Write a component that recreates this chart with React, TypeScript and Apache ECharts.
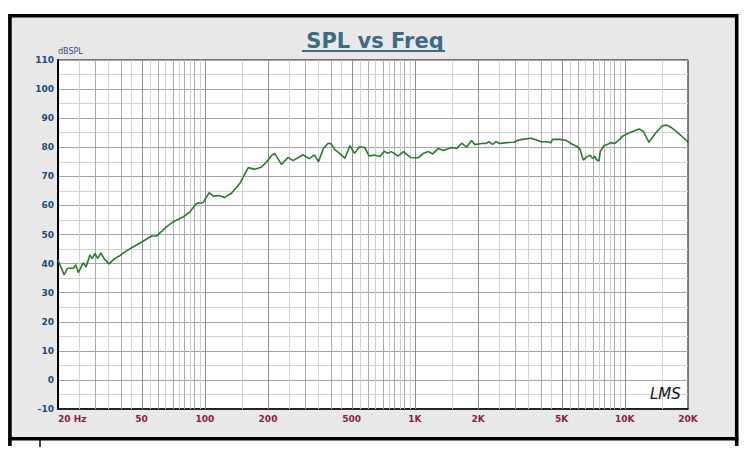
import React, { useEffect, useRef } from "react";
import * as echarts from "echarts";

// Measured response (frequency in Hz, level in dB SPL)
const FREQ_HZ = [
  20, 21.4, 22.2, 23.7, 24.3, 25, 26.4, 27.2, 28.4, 29.1, 30, 30.9, 32, 33.2, 35,
  37.3, 39.2, 41.8, 45.7, 50.3, 55.9, 59, 65.9, 70.9, 79.2, 85, 91.4, 98, 105,
  110, 117, 124, 134, 147, 161, 173, 186, 200, 207, 215, 232, 249, 263, 294, 314,
  333, 348, 367, 387, 399, 417, 439, 465, 491, 506, 517, 545, 578, 605, 643, 682,
  717, 743, 772, 835, 883, 953, 1041, 1100, 1162, 1217, 1295, 1368, 1499, 1585,
  1673, 1767, 1862, 1934, 2044, 2130, 2193, 2250, 2350, 2435, 2540, 2738, 2958,
  3080, 3242, 3589, 3807, 3991, 4247, 4449, 4526, 4902, 5289, 5498, 5958, 6119,
  6344, 6586, 6843, 7031, 7210, 7302, 7535, 7640, 7955, 8350, 8542, 8980, 9456,
  9801, 10390, 11130, 11680, 12250, 13040, 14000, 15090, 15830, 16620, 17880,
  19130, 20000,
];
const SPL_DB = [
  41.2, 36.1, 38.4, 38.4, 39.6, 36.9, 40.3, 38.8, 43, 41.7, 43.5, 41.8, 43.7, 41.6, 39.9,
  41.8, 42.6, 44.1, 45.8, 47.5, 49.5, 49.5, 52.7, 54.4, 56.1, 57.8, 60.7, 60.9, 64.4,
  63.2, 63.4, 62.7, 64.2, 67.6, 73, 72.4, 73.1, 75.5, 77, 77.9, 74.1, 76.5, 75.4, 77.4, 76.1,
  77.4, 75, 79.6, 81.4, 81.2, 79.1, 77.9, 76.2, 80.5, 79, 77.9, 80.2, 79.9, 77, 77.3, 76.8,
  78.7, 77.9, 78.5, 77, 78.5, 76.5, 76.4, 77.9, 78.5, 77.7, 79.6, 78.9, 79.9, 79.6,
  81.4, 80, 82.3, 80.9, 81.2, 81.4, 81.3, 81.9, 81, 81.9, 81.3, 81.6, 81.7,
  82.3, 82.7, 83.1, 82.5, 81.9, 81.9, 81.6, 82.7, 82.7, 82.3, 81.4, 80.2, 79.3,
  75.6, 76.7, 77.3, 76.1, 76.9, 75.8, 75.3, 78.5, 80.5, 81.1, 81.6, 81.3, 82.7,
  83.9, 84.8, 85.7, 86.3, 85.5, 81.7, 84.8, 87.4, 87.6, 86.8, 85,
  83.1, 81.7,
];

const X_MIN_HZ = 20;
const X_MAX_HZ = 20000;
const X_TICK_HZ = [20, 50, 100, 200, 500, 1000, 2000, 5000, 10000, 20000];
const X_TICK_LABELS = ["20 Hz", "50", "100", "200", "500", "1K", "2K", "5K", "10K", "20K"];
const Y_MIN = -10;
const Y_MAX = 110;
const Y_STEP = 10;

// Vertical grid: whole multiples (darker) and half multiples (lighter) of each decade
const DECADES = [10, 100, 1000, 10000];
const MAJOR_MULTS = [1, 3, 4, 6, 7, 8, 9];
const LABEL_MULTS = [2, 5, 10];
const MINOR_MULTS = [1.5, 2.5, 3.5, 4.5, 5.5, 6.5, 7.5, 8.5, 9.5];

function gridFreqs(mults: number[]): number[] {
  const out: number[] = [];
  DECADES.forEach((d) =>
    mults.forEach((m) => {
      const f = d * m;
      if (f > X_MIN_HZ && f < X_MAX_HZ && out.indexOf(f) < 0) out.push(f);
    })
  );
  return out;
}

export default function App() {
  const ref = useRef<HTMLDivElement>(null);

  useEffect(() => {
    document.body.style.margin = "0";
    if (!ref.current) return;
    const chart = echarts.init(ref.current, undefined, { renderer: "svg" });
    const lg = (f: number) => Math.log10(f);

    const titleColor = "#3d6a84";
    const gridSeries = (name: string, mults: number[], color: string) => ({
      name,
      type: "line",
      data: [],
      z: 1,
      silent: true,
      markLine: {
        silent: true,
        symbol: "none",
        label: { show: false },
        lineStyle: { color, width: 1, type: "solid" },
        data: gridFreqs(mults).map((f) => ({ xAxis: lg(f) })),
      },
    });

    const option: any = {
      animation: false,
      backgroundColor: "#ffffff",
      title: {
        text: "SPL vs Freq",
        left: "center",
        top: 25,
        textStyle: {
          fontFamily: "DejaVu Sans",
          fontWeight: "bold",
          fontSize: 21,
          color: titleColor,
        },
      },
      graphic: [
        {
          type: "rect",
          z: -5,
          shape: { x: 9.9, y: 15.7, width: 726.8, height: 423 },
          style: { fill: "#e8e8e8", stroke: "#000", lineWidth: 3.6 },
        },
        {
          type: "line",
          z: -4,
          shape: { x1: 9.9, y1: 438, x2: 9.9, y2: 446 },
          style: { stroke: "#000", lineWidth: 3.6 },
        },
        {
          type: "line",
          z: -4,
          shape: { x1: 736.7, y1: 438, x2: 736.7, y2: 446 },
          style: { stroke: "#000", lineWidth: 3.6 },
        },
        {
          type: "line",
          z: -4,
          shape: { x1: 40, y1: 440, x2: 40, y2: 447 },
          style: { stroke: "#000", lineWidth: 1.5 },
        },
        {
          type: "line",
          z: 100,
          shape: { x1: 302, y1: 51, x2: 445, y2: 51 },
          style: { stroke: titleColor, lineWidth: 2 },
        },
        {
          type: "text",
          z: 100,
          x: 650,
          y: 386,
          style: {
            text: "LMS",
            fontFamily: "DejaVu Sans",
            fontStyle: "italic",
            fontWeight: "normal",
            fontSize: 15,
            fill: "#111",
          },
        },
      ],
      grid: {
        left: 58,
        top: 60,
        right: 62,
        bottom: 66,
        show: true,
        backgroundColor: "#ffffff",
        borderColor: "#000",
        borderWidth: 1,
      },
      xAxis: {
        type: "value",
        min: lg(X_MIN_HZ),
        max: lg(X_MAX_HZ),
        splitLine: { show: false },
        axisTick: { show: false },
        axisLine: { show: true, onZero: false, lineStyle: { color: "#000", width: 1.5 } },
        axisLabel: {
          customValues: X_TICK_HZ.map(lg),
          alignMinLabel: "left",
          margin: 5,
          color: "#8a1c4e",
          fontFamily: "DejaVu Sans",
          fontWeight: "bold",
          fontSize: 9,
          formatter: (v: number) => {
            const i = X_TICK_HZ.findIndex((f) => Math.abs(lg(f) - v) < 1e-6);
            return i >= 0 ? X_TICK_LABELS[i] : "";
          },
        },
      },
      yAxis: {
        type: "value",
        min: Y_MIN,
        max: Y_MAX,
        interval: Y_STEP,
        name: "dBSPL",
        nameLocation: "end",
        nameGap: 3,
        nameTextStyle: {
          color: "#2c5078",
          fontFamily: "DejaVu Sans",
          fontSize: 8,
          align: "left",
        },
        axisTick: { show: false },
        axisLine: { show: true, onZero: false, lineStyle: { color: "#000", width: 2 } },
        axisLabel: {
          color: "#1c4a7a",
          fontFamily: "DejaVu Sans",
          fontWeight: "bold",
          fontSize: 9,
          margin: 4,
        },
        splitLine: { show: true, lineStyle: { color: "#a4a4a4", width: 1 } },
        minorTick: { show: false, splitNumber: 2 },
        minorSplitLine: { show: true, lineStyle: { color: "#d2d2d2", width: 1 } },
      },
      series: [
        gridSeries("gridMinor", MINOR_MULTS, "#d0d0d0"),
        gridSeries("gridMajor", MAJOR_MULTS, "#aaaaaa"),
        gridSeries("gridLabel", LABEL_MULTS, "#8e8e8e"),
        {
          name: "SPL",
          type: "line",
          z: 5,
          showSymbol: false,
          symbol: "none",
          lineStyle: { color: "#2a7a2a", width: 1.6 },
          data: FREQ_HZ.map((f, i) => [lg(f), SPL_DB[i]]),
        },
      ],
    };
    chart.setOption(option);
    return () => chart.dispose();
  }, []);

  return <div ref={ref} style={{ width: 750, height: 475, background: "#fff" }} />;
}
